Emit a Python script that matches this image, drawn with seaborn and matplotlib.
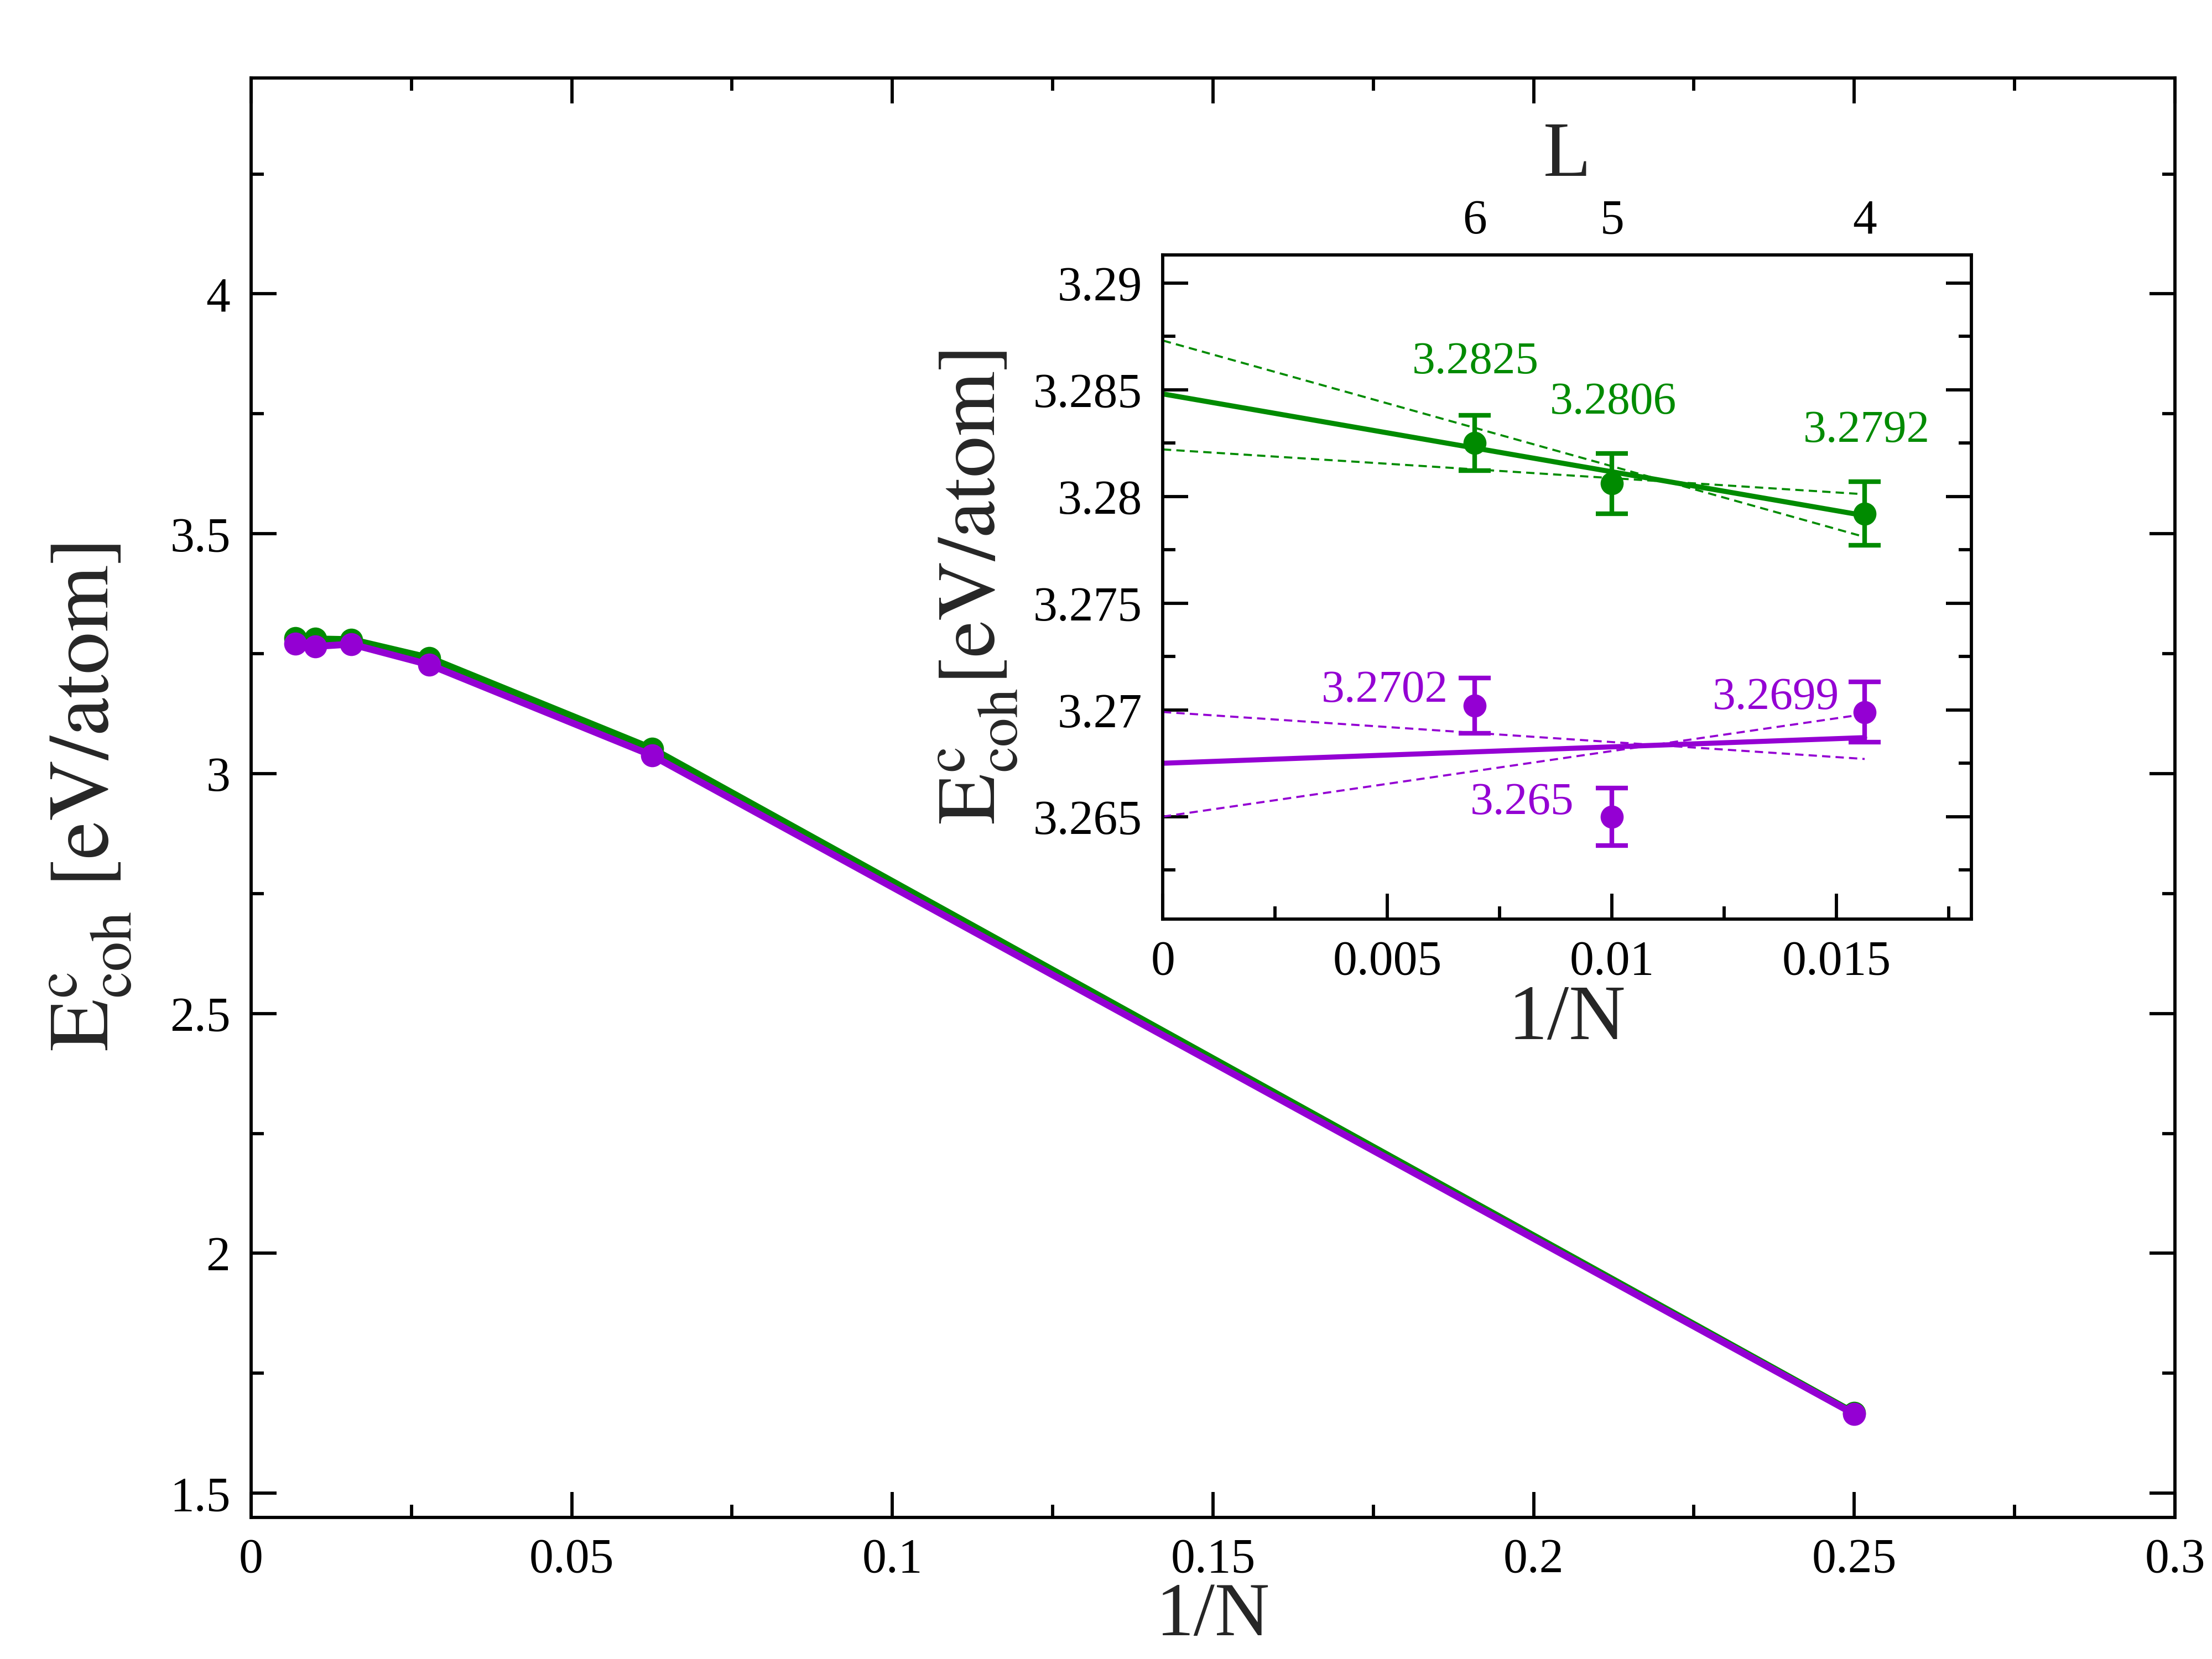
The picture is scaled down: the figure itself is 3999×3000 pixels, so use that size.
import numpy as np
import pandas as pd
import seaborn as sns
import matplotlib
matplotlib.use("Agg")
import matplotlib.pyplot as plt
from matplotlib.ticker import MultipleLocator, FuncFormatter, FixedLocator

# ---- data ----
inv_n = [0.00694, 0.01, 0.015625, 0.02778, 0.0625, 0.25]
e_green = [3.2825, 3.2806, 3.2792, 3.241, 3.052, 1.667]
e_violet = [3.2702, 3.265, 3.2699, 3.227, 3.038, 1.665]

# inset: three largest systems with error bars
inv_n_in = [0.00694, 0.01, 0.015625]
green_in = [3.2825, 3.2806, 3.2792]
green_err = [0.0013, 0.0014, 0.0015]
violet_in = [3.2702, 3.265, 3.2699]
violet_err = [0.0013, 0.00135, 0.0014]

# fit lines (endpoints at 1/N = 0 and the last point)
fit_x = [0.0, 0.015625]
green_fit = [3.2848, 3.2791]
green_fit_hi = [3.2873, 3.2781]
green_fit_lo = [3.2822, 3.2801]
violet_fit = [3.2675, 3.2687]
violet_fit_hi = [3.2699, 3.2677]
violet_fit_lo = [3.2650, 3.2698]

L_ticks = [0.00694, 0.01, 0.015625]
L_labels = ["6", "5", "4"]

GREEN = "#008b00"
VIOLET = "#9400d3"

sns.set_theme(style="ticks")
plt.rcParams["font.family"] = ["Liberation Serif", "DejaVu Serif"]
plt.rcParams["mathtext.fontset"] = "stix"
plt.rcParams["mathtext.default"] = "rm"

YLAB_MAIN = r"$\mathrm{E}^{\mathrm{c}}_{\mathrm{coh}}\ \mathrm{[eV/atom]}$"
YLAB_INSET = r"$\mathrm{E}^{\mathrm{c}}_{\mathrm{coh}}\mathrm{[eV/atom]}$"


def fmt(v, pos):
    return f"{round(v, 5):g}"


def style_axes(ax, size):
    ax.tick_params(which="both", direction="in", top=True, right=True,
                   width=1.4, labelsize=size, colors="black", pad=9)
    ax.tick_params(which="major", length=11)
    ax.tick_params(which="minor", length=5.5)
    for s in ax.spines.values():
        s.set_linewidth(1.4)
        s.set_color("black")
    ax.xaxis.set_major_formatter(FuncFormatter(fmt))
    ax.yaxis.set_major_formatter(FuncFormatter(fmt))


fig = plt.figure(figsize=(13.333, 10), dpi=300)

# ---- main axes ----
ax = fig.add_axes([0.1135, 0.0855, 0.8695, 0.8675])
main = pd.DataFrame({"x": inv_n, "green": e_green, "violet": e_violet})
sns.lineplot(data=main, x="x", y="green", ax=ax, color=GREEN, lw=3,
             marker="o", markersize=10, markeredgewidth=0, sort=False)
sns.lineplot(data=main, x="x", y="violet", ax=ax, color=VIOLET, lw=3,
             marker="o", markersize=10, markeredgewidth=0, sort=False)
ax.set_xlim(0, 0.3)
ax.set_ylim(1.45, 4.45)
ax.xaxis.set_major_locator(MultipleLocator(0.05))
ax.xaxis.set_minor_locator(MultipleLocator(0.025))
ax.yaxis.set_major_locator(MultipleLocator(0.5))
ax.yaxis.set_minor_locator(MultipleLocator(0.25))
style_axes(ax, 21)
ax.set_xlabel("1/N", fontsize=33, labelpad=0)
ax.set_ylabel(YLAB_MAIN, fontsize=37, labelpad=16)

# ---- inset ----
axi = fig.add_axes([0.5256, 0.446, 0.3654, 0.4002])
for xs, ys, c in [(fit_x, green_fit_hi, GREEN), (fit_x, green_fit_lo, GREEN),
                  (fit_x, violet_fit_hi, VIOLET), (fit_x, violet_fit_lo, VIOLET)]:
    sns.lineplot(x=xs, y=ys, ax=axi, color=c, lw=0.9, linestyle=(0, (4, 2.5)))
sns.lineplot(x=fit_x, y=green_fit, ax=axi, color=GREEN, lw=2.2)
sns.lineplot(x=fit_x, y=violet_fit, ax=axi, color=VIOLET, lw=2.2)

axi.errorbar(inv_n_in, green_in, yerr=green_err, fmt="o", color=GREEN,
             ms=9, elinewidth=2, capsize=7, capthick=2)
axi.errorbar(inv_n_in, violet_in, yerr=violet_err, fmt="o", color=VIOLET,
             ms=9, elinewidth=2, capsize=7, capthick=2)

axi.set_xlim(0, 0.018)
axi.set_ylim(3.2602, 3.2913)
axi.xaxis.set_major_locator(MultipleLocator(0.005))
axi.xaxis.set_minor_locator(MultipleLocator(0.0025))
axi.yaxis.set_major_locator(MultipleLocator(0.005))
axi.yaxis.set_minor_locator(MultipleLocator(0.0025))
style_axes(axi, 21)
axi.set_xlabel("1/N", fontsize=34, labelpad=0)
axi.set_ylabel(YLAB_INSET, fontsize=36, labelpad=6)

# value labels
labels = [
    (0.00696, 3.28628, "3.2825", GREEN),
    (0.01003, 3.2844, "3.2806", GREEN),
    (0.01566, 3.28306, "3.2792", GREEN),
    (0.00494, 3.2709, "3.2702", VIOLET),
    (0.01364, 3.27055, "3.2699", VIOLET),
    (0.00799, 3.26563, "3.265", VIOLET),
]
for x, y, t, c in labels:
    axi.text(x, y, t, color=c, fontsize=20, ha="center", va="center")

# top L axis
top = axi.twiny()
top.set_xlim(axi.get_xlim())
top.xaxis.set_major_locator(FixedLocator(L_ticks))
top.set_xticklabels(L_labels)
top.tick_params(axis="x", length=0, labelsize=21, pad=5, colors="black")
top.set_xlabel("L", fontsize=34, labelpad=10)
for s in top.spines.values():
    s.set_visible(False)

fig.savefig("out.png", dpi=300, facecolor="white")
